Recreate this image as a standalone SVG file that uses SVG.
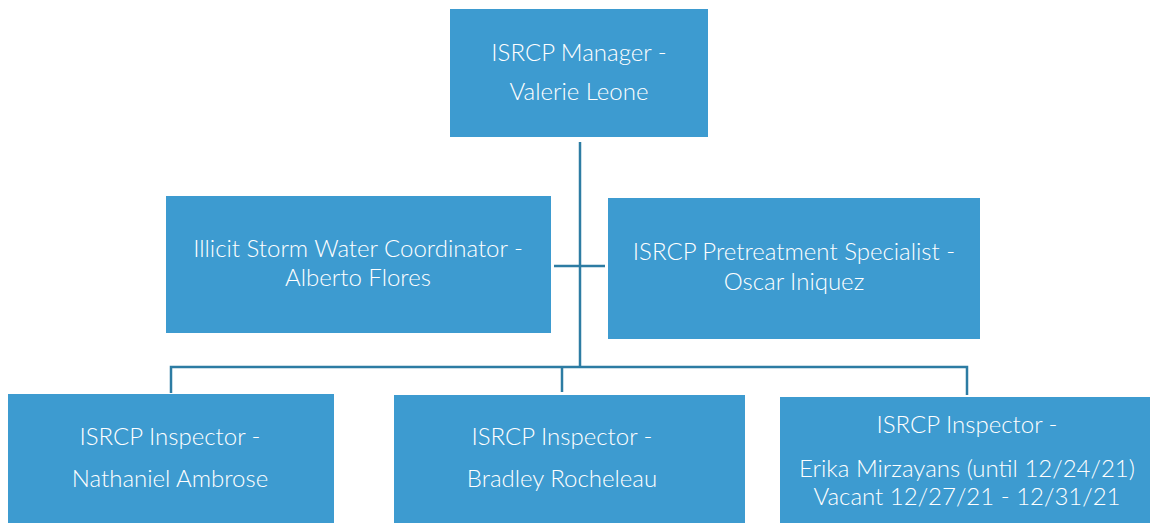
<svg xmlns="http://www.w3.org/2000/svg" width="1150" height="523" viewBox="0 0 1150 523">
<style>
.box{fill:#3D9BD0;}
.t{font-family:Lato,"Open Sans","Liberation Sans",sans-serif;font-size:24px;font-weight:300;fill:#ffffff;text-anchor:middle;}
.c{stroke:#2D7CA3;stroke-width:2.5;fill:none;}
</style>
<rect width="1150" height="523" fill="#ffffff"/>
<g id="connectors">
<line class="c" x1="580" y1="142" x2="580" y2="367"/>
<line class="c" x1="554" y1="266" x2="605" y2="266"/>
<path class="c" d="M171,393 V367 H967 V395"/>
<line class="c" x1="562" y1="367" x2="562" y2="392"/>
</g>
<g id="manager">
<rect class="box" x="450" y="9" width="258" height="128"/>
<text class="t" x="579" y="61">ISRCP Manager -</text>
<text class="t" x="579" y="100">Valerie Leone</text>
</g>
<g id="coordinator">
<rect class="box" x="166" y="196" width="385" height="137"/>
<text class="t" x="358" y="257">Illicit Storm Water Coordinator -</text>
<text class="t" x="358" y="286">Alberto Flores</text>
</g>
<g id="specialist">
<rect class="box" x="608" y="198" width="372" height="141"/>
<text class="t" x="794" y="260">ISRCP Pretreatment Specialist -</text>
<text class="t" x="794" y="290">Oscar Iniquez</text>
</g>
<g id="inspector1">
<rect class="box" x="8" y="394" width="326" height="129"/>
<text class="t" x="170" y="445">ISRCP Inspector -</text>
<text class="t" x="170" y="487">Nathaniel Ambrose</text>
</g>
<g id="inspector2">
<rect class="box" x="394" y="395" width="351" height="128"/>
<text class="t" x="562" y="445">ISRCP Inspector -</text>
<text class="t" x="562" y="487">Bradley Rocheleau</text>
</g>
<g id="inspector3">
<rect class="box" x="780" y="397" width="370" height="126"/>
<text class="t" x="967" y="433">ISRCP Inspector -</text>
<text class="t" x="967" y="477">Erika Mirzayans (until 12/24/21)</text>
<text class="t" x="967" y="505">Vacant 12/27/21 - 12/31/21</text>
</g>
</svg>
